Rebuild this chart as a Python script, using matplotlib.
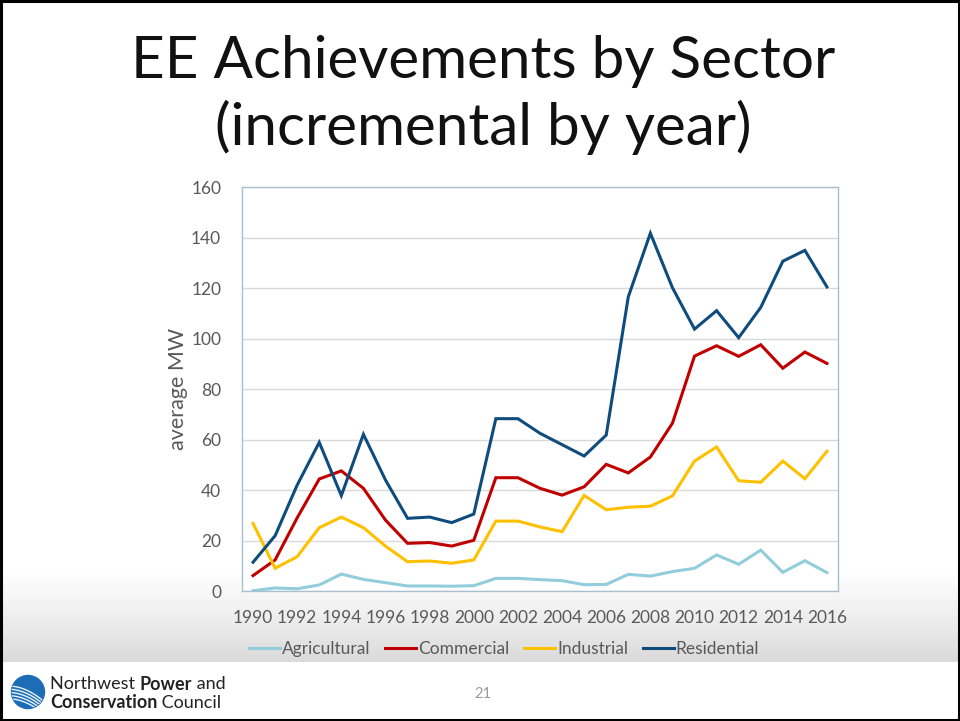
import numpy as np
import matplotlib.pyplot as plt
from matplotlib.patches import Rectangle, Circle

years = list(range(1990, 2017))

agricultural = [0.1, 1.2, 0.9, 2.4, 6.7, 4.6, 3.3, 2.0, 2.0, 1.9, 2.1, 5.0, 5.0, 4.5, 4.1,
                2.5, 2.6, 6.6, 5.9, 7.7, 9.0, 14.3, 10.6, 16.2, 7.4, 12.0, 7.3]
commercial = [6.1, 12.3, 29.0, 44.4, 47.6, 40.7, 28.1, 18.9, 19.2, 17.8, 20.1, 44.9, 44.9, 40.7, 38.0,
              41.3, 50.2, 46.8, 53.1, 66.5, 93.1, 97.2, 93.0, 97.6, 88.3, 94.7, 90.2]
industrial = [26.8, 9.0, 13.6, 25.1, 29.3, 25.1, 17.8, 11.6, 11.9, 11.0, 12.3, 27.7, 27.7, 25.4, 23.5,
              37.9, 32.2, 33.2, 33.6, 37.7, 51.5, 57.1, 43.7, 43.1, 51.5, 44.5, 55.4]
residential = [11.4, 21.9, 42.0, 58.9, 37.8, 62.1, 44.0, 28.8, 29.3, 27.1, 30.5, 68.3, 68.3, 62.5, 58.0,
               53.5, 61.8, 116.6, 141.8, 120.2, 103.8, 111.1, 100.4, 112.4, 130.7, 135.0, 120.5]

series = [("Agricultural", agricultural, "#92CDDC"),
          ("Commercial", commercial, "#C00000"),
          ("Industrial", industrial, "#FFC000"),
          ("Residential", residential, "#0F4C7E")]

W, H = 960, 721
fig = plt.figure(figsize=(9.6, 7.21), dpi=100)

# slide background: white with grey fade behind the axis labels / legend
bg = fig.add_axes([0, 0, 1, 1], zorder=-10)
bg.set_xlim(0, W)
bg.set_ylim(H, 0)
bg.axis("off")
top, bot = 565, 662
ramp = np.clip((np.arange(H) - top) / (bot - top), 0, 1)
rows = 1 - 0.15 * ramp ** 1.2
rows[bot:] = 1.0
img = np.repeat(rows[:, None], 4, axis=1)
bg.imshow(img, cmap="gray", vmin=0, vmax=1, extent=[0, W, H, 0], aspect="auto")
bg.add_patch(Rectangle((1, 1), W - 2, H - 2, fill=False, ec="black", lw=2.2))

# title
title_kw = dict(ha="center", va="center", fontsize=42, family="Lato", color="#111111")
fig.text(0.503, 1 - 62 / H, "EE Achievements by Sector", **title_kw)
fig.text(0.503, 1 - 127 / H, "(incremental by year)", **title_kw)

# chart
ax = fig.add_axes([242 / W, 1 - 591 / H, (838 - 242) / W, (591 - 187.3) / H])
x = np.arange(len(years))
for name, vals, col in series:
    ax.plot(x, vals, color=col, lw=2.2, label=name, solid_joinstyle="miter")

ax.set_xlim(-0.5, len(years) - 0.5)
ax.set_ylim(0, 160)
ax.set_yticks(range(0, 161, 20))
ax.set_xticks(x[::2])
ax.set_xticklabels([str(y) for y in years[::2]])
ax.tick_params(length=0, labelsize=12.5, labelcolor="#595959")
ax.tick_params(axis="x", pad=14)
ax.tick_params(axis="y", pad=15)
for lab in ax.get_xticklabels() + ax.get_yticklabels():
    lab.set_family("Lato")
ax.grid(axis="y", color="#D9D9D9", lw=1)
ax.set_axisbelow(True)
for s in ax.spines.values():
    s.set_color("#A9BFD0")
    s.set_linewidth(1)
ax.set_ylabel("average MW", fontsize=15.5, color="#595959", family="Lato", labelpad=2)

leg = ax.legend(loc="center", bbox_to_anchor=((504 - 242) / 596, (591 - 649) / (591 - 187.3)), ncol=4,
                frameon=False, handlelength=1.8, handletextpad=0.1, columnspacing=0.85,
                prop={"family": "Lato", "size": 12.5})
for t in leg.get_texts():
    t.set_color("#595959")

# footer logo and page number
logo = fig.add_axes([0, 0, 1, 1], zorder=5)
logo.set_xlim(0, W)
logo.set_ylim(H, 0)
logo.axis("off")
disc = Circle((28, 692), 16.5, color="#1C6DB5")
logo.add_patch(disc)
wx = np.linspace(8, 50, 60)
for k in range(5):
    wy = 686 + 3.2 * k + 0.012 * (wx - 8) ** 2
    ln, = logo.plot(wx, wy, color="white", lw=1.0, alpha=0.9)
    ln.set_clip_path(disc)

renderer = fig.canvas.get_renderer()


def text_run(x0, y0, parts):
    # place regular / bold pieces one after another on a line
    xc = x0
    for s, wt in parts:
        t = logo.text(xc, y0, s, fontsize=13, family="Lato", weight=wt, va="center",
                      ha="left", color="#222222")
        bb = t.get_window_extent(renderer)
        xc += bb.width


text_run(50, 684, [("Northwest ", "normal"), ("Power", "bold"), (" and", "normal")])
text_run(50, 703, [("Conservation", "bold"), (" Council", "normal")])
logo.text(483, 694, "21", fontsize=10.5, family="Lato", va="center", ha="center", color="#9A9A9A")

fig.savefig("out.png", dpi=100)
